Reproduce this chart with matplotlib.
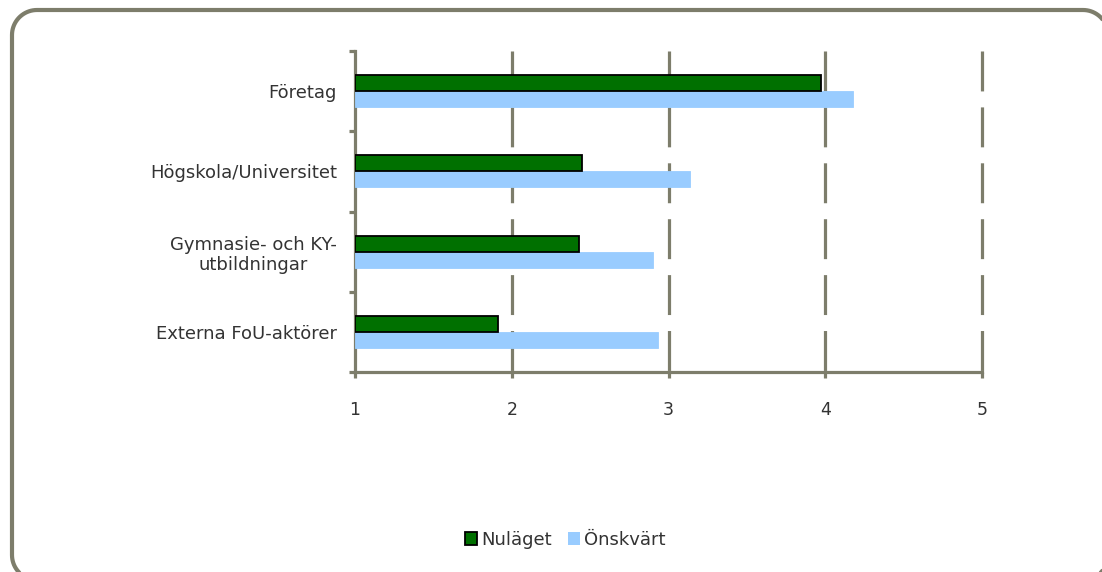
import numpy as np
import matplotlib
matplotlib.use("Agg")
import matplotlib.pyplot as plt
from matplotlib.patches import Polygon, Patch

# survey answers, scale 1-5
categories = ["Företag", "Högskola/Universitet", "Gymnasie- och KY-\nutbildningar", "Externa FoU-aktörer"]
nulaget = [3.97, 2.45, 2.43, 1.91]
onskvart = [4.18, 3.14, 2.90, 2.93]
series_names = ["Nuläget", "Önskvärt"]
xticks = [1, 2, 3, 4, 5]

grey = "#7d7d6b"
green = "#007000"
blue = "#99ccff"
textc = "#333333"
fs = 13

W, H = 1102, 572
fig = plt.figure(figsize=(W / 100, H / 100), dpi=100)


def rounded_rect(x0, y0, x1, y1, r, n=20):
    # outline of a rounded rectangle as plain line segments
    pts = []
    corners = [(x1 - r, y1 - r, 0), (x0 + r, y1 - r, 90),
               (x0 + r, y0 + r, 180), (x1 - r, y0 + r, 270)]
    for cx, cy, a0 in corners:
        t = np.radians(np.linspace(a0, a0 + 90, n))
        pts.extend(zip(cx + r * np.cos(t), cy + r * np.sin(t)))
    return np.array(pts)


# frame around the whole chart, in inches from the bottom-left corner
frame = Polygon(rounded_rect(0.12, (H - 580) / 100, 11.08, (H - 10) / 100, 0.25),
                closed=True, transform=fig.dpi_scale_trans, facecolor="none",
                edgecolor=grey, linewidth=3.0)
fig.patches.append(frame)

ax = fig.add_axes([355 / W, 1 - 372 / H, (982 - 355) / W, (372 - 51) / H])

y = np.arange(len(categories))
h = 0.2
ax.barh(y + h / 2, np.array(onskvart) - 1, left=1, height=h, color=blue,
        edgecolor=blue, linewidth=0.6, zorder=2.9)
ax.barh(y - h / 2, np.array(nulaget) - 1, left=1, height=h, color=green,
        edgecolor="black", linewidth=1.3, zorder=3)

ax.set_xlim(1, 5)
ax.set_ylim(len(categories) - 0.5, -0.5)

# dashed vertical grid, dashes start at the top
for x in xticks[1:]:
    ax.plot([x, x], [1, 0], transform=ax.get_xaxis_transform(), color=grey,
            linewidth=2.3, zorder=1, dashes=(12.5, 5.0), dash_capstyle="butt",
            clip_on=False)

for s in ["top", "right"]:
    ax.spines[s].set_visible(False)
for s in ["left", "bottom"]:
    ax.spines[s].set_color(grey)
    ax.spines[s].set_linewidth(2.3)

ax.set_xticks(xticks)
ax.set_xticklabels([str(v) for v in xticks])
ax.set_yticks(np.arange(len(categories) + 1) - 0.5)
ax.set_yticklabels([])
ax.set_yticks(y, minor=True)
ax.set_yticklabels(categories, minor=True, ha="right", multialignment="center")
ax.tick_params(axis="y", which="major", length=4, width=2.3, color=grey, direction="out")
ax.tick_params(axis="y", which="minor", length=0, pad=13, labelsize=fs, labelcolor=textc)
ax.tick_params(axis="x", length=4, width=2.3, color=grey, direction="out",
               pad=17, labelsize=fs - 0.5, labelcolor=textc)

handles = [Patch(facecolor=green, edgecolor="black", linewidth=1.3),
           Patch(facecolor=blue, edgecolor="none")]
fig.legend(handles, series_names, loc="center", bbox_to_anchor=(565 / W, 1 - 540 / H),
           ncol=2, frameon=False, handlelength=0.7, handleheight=0.7,
           handletextpad=0.2, columnspacing=0.9, fontsize=fs, labelcolor=textc)

fig.savefig("out.png", dpi=100)
